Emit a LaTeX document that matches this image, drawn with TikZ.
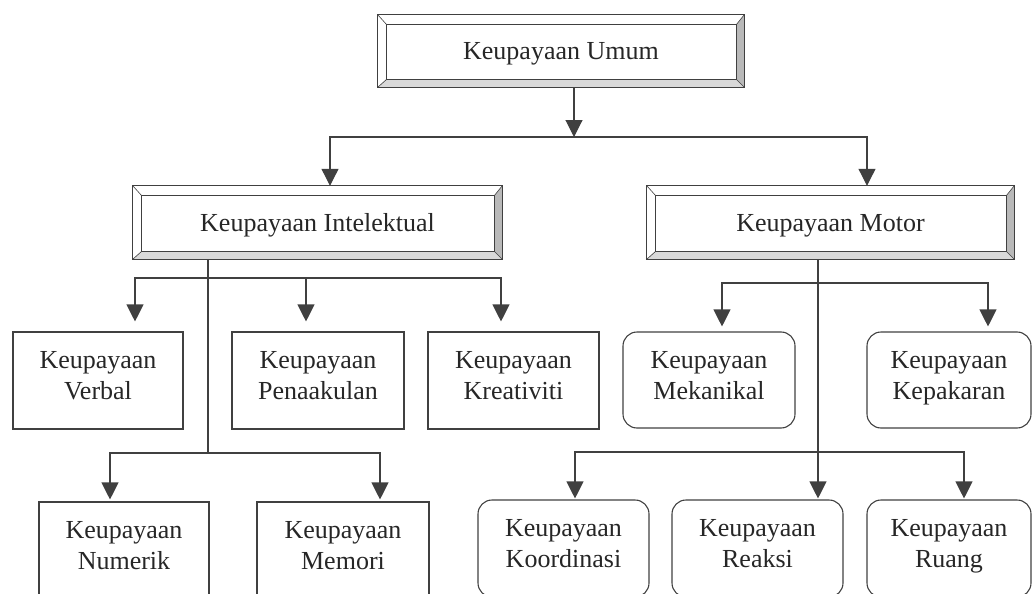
\documentclass[tikz,border=0pt]{standalone}
\usepackage{fontspec}
\setmainfont{Liberation Serif}
\usetikzlibrary{arrows.meta}
\newcommand{\bevelbox}[1]{%
  \fill[gray!55] (#1.north east) -- ([shift={(-8,10)}]#1.north east) -- ([shift={(-8,-8)}]#1.south east) -- (#1.south east) -- cycle;
  \fill[gray!30] (#1.south west) -- ([shift={(9,-8)}]#1.south west) -- ([shift={(-8,-8)}]#1.south east) -- (#1.south east) -- cycle;
  \draw[frameline] (#1.north west) rectangle (#1.south east);
  \draw[frameline] ([shift={(9,10)}]#1.north west) rectangle ([shift={(-8,-8)}]#1.south east);
  \draw[frameline, line width=0.6pt] (#1.north west) -- ([shift={(9,10)}]#1.north west);
  \draw[frameline, line width=0.6pt] (#1.north east) -- ([shift={(-8,10)}]#1.north east);
  \draw[frameline, line width=0.6pt] (#1.south west) -- ([shift={(9,-8)}]#1.south west);
  \draw[frameline, line width=0.6pt] (#1.south east) -- ([shift={(-8,-8)}]#1.south east);
}
\begin{document}
\begin{tikzpicture}[x=1pt,y=-1pt,
  lbl/.style={font=\fontsize{26}{31}\selectfont, align=center, text=black!85, inner sep=0pt},
  sqbox/.style={lbl, draw=black!75, line width=1.1pt, rectangle},
  rbox/.style={sqbox, rounded corners=14pt},
  frame/.style={lbl, text depth=0pt},
  frameline/.style={draw=black!75, line width=1.1pt},
  arr/.style={draw=black!75, line width=1.1pt, -{Triangle[length=17pt,width=17pt]}},
  conn/.style={draw=black!75, line width=1.1pt}]
\useasboundingbox (0,0) rectangle (1034,594);
\clip (0,0) rectangle (1034,594);

% framed boxes
\node[frame, minimum width=366pt, minimum height=72pt] (umum) at (561,51) {Keupayaan Umum};
\node[frame, minimum width=369pt, minimum height=73pt] (intel) at (317.5,222.5) {Keupayaan Intelektual};
\node[frame, minimum width=367pt, minimum height=73pt] (motor) at (830.5,222.5) {Keupayaan Motor};
\bevelbox{umum}
\bevelbox{intel}
\bevelbox{motor}

% intellectual children
\node[sqbox, minimum width=170pt, minimum height=97pt] (verbal) at (98,380.5) {Keupayaan\\Verbal\strut};
\node[sqbox, minimum width=172pt, minimum height=97pt] (penaa) at (318,380.5) {Keupayaan\\Penaakulan\strut};
\node[sqbox, minimum width=171pt, minimum height=97pt] (kreat) at (513.5,380.5) {Keupayaan\\Kreativiti\strut};
\node[sqbox, minimum width=170pt, minimum height=97pt] (numer) at (124,550.5) {Keupayaan\\Numerik\strut};
\node[sqbox, minimum width=172pt, minimum height=97pt] (memori) at (343,550.5) {Keupayaan\\Memori\strut};

% motor children
\node[rbox, minimum width=172pt, minimum height=96pt] (mekan) at (709,380) {Keupayaan\\Mekanikal\strut};
\node[rbox, minimum width=164pt, minimum height=96pt] (kepak) at (949,380) {Keupayaan\\Kepakaran\strut};
\node[rbox, minimum width=171pt, minimum height=97pt] (koord) at (563.5,548.5) {Keupayaan\\Koordinasi\strut};
\node[rbox, minimum width=171pt, minimum height=97pt] (reaksi) at (757.5,548.5) {Keupayaan\\Reaksi\strut};
\node[rbox, minimum width=164pt, minimum height=97pt] (ruang) at (949,548.5) {Keupayaan\\Ruang\strut};

% junctions
\coordinate (j0) at (574,137);
\coordinate (i1) at (208,278);
\coordinate (i2) at (208,453);
\coordinate (m1) at (818,283);
\coordinate (m2) at (818,452);

% top level
\draw[arr] (umum.south -| j0) -- (j0);
\draw[arr] (j0) -| ([xshift=12.5]intel.north);
\draw[arr] (j0) -| ([xshift=36.5]motor.north);

% intellectual branches
\draw[conn] (intel.south -| i1) -- (i2);
\draw[arr, shorten >=10pt] (i1) -| ([xshift=37]verbal.north);
\draw[arr, shorten >=10pt] (i1) -| ([xshift=-12]penaa.north);
\draw[arr, shorten >=10pt] (i1) -| ([xshift=-12.5]kreat.north);
\draw[arr, shorten >=2pt] (i2) -| ([xshift=-14]numer.north);
\draw[arr, shorten >=2pt] (i2) -| ([xshift=37]memori.north);

% motor branches
\draw[arr, shorten >=1pt] (motor.south -| m1) -- (reaksi.north -| m1);
\draw[arr, shorten >=5pt] (m1) -| ([xshift=13]mekan.north);
\draw[arr, shorten >=5pt] (m1) -| ([xshift=39]kepak.north);
\draw[arr, shorten >=1pt] (m2) -| ([xshift=11.5]koord.north);
\draw[arr, shorten >=1pt] (m2) -| ([xshift=15]ruang.north);
\end{tikzpicture}
\end{document}
